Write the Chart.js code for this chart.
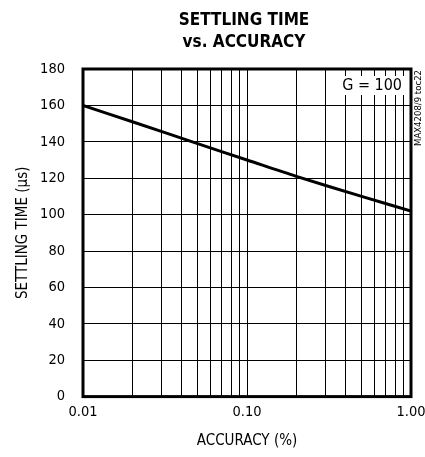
<!DOCTYPE html>
<html>
<head>
<meta charset="utf-8">
<script src="https://cdn.jsdelivr.net/npm/chart.js@4"></script>
<style>
  html, body { margin: 0; padding: 0; background: #fff; }
  #wrap { width: 425px; height: 457px; }
</style>
</head>
<body>
<div id="wrap"><canvas id="myChart"></canvas></div>
<script>
// accuracy (%) vs settling time (us), G = 100
const accuracy = [0.01, 0.02, 0.05, 0.1, 0.2, 0.5, 1.0];
const settlingTime = [160, 151, 139, 130, 121, 110, 102];
const xTickValues = [0.01, 0.02, 0.03, 0.04, 0.05, 0.06, 0.07, 0.08, 0.09,
  0.1, 0.2, 0.3, 0.4, 0.5, 0.6, 0.7, 0.8, 0.9, 1.0];
const xTickLabels = { 0.01: '0.01', 0.1: '0.10', 1: '1.00' };

const FONT = '"DejaVu Sans Condensed", "Liberation Sans", Arial, sans-serif';

// title over the plot, thick frame, G = 100 box, side note
const decorations = {
  id: 'decorations',
  afterDraw(chart) {
    const { ctx, chartArea: a } = chart;
    const cx = (a.left + a.right) / 2 - 3;
    ctx.save();
    ctx.fillStyle = '#000';
    ctx.textAlign = 'center';
    ctx.textBaseline = 'middle';
    ctx.font = 'bold 17px ' + FONT;
    ctx.fillText('SETTLING TIME', cx, 21);
    ctx.fillText('vs. ACCURACY', cx, 43);
    // label box
    ctx.font = '16px ' + FONT;
    const txt = 'G = 100';
    const w = ctx.measureText(txt).width + 6;
    const bx = a.right - w - 6, by = a.top + 7;
    ctx.fillStyle = '#fff';
    ctx.fillRect(bx, by, w, 19);
    ctx.fillStyle = '#000';
    ctx.textAlign = 'left';
    ctx.fillText(txt, bx + 3, by + 10);
    // frame
    ctx.strokeStyle = '#000';
    ctx.lineWidth = 3;
    ctx.strokeRect(a.left, a.top, a.right - a.left, a.bottom - a.top);
    // side note
    ctx.translate(a.right + 8, a.top + 1);
    ctx.rotate(-Math.PI / 2);
    ctx.font = '9.5px ' + FONT;
    ctx.textAlign = 'right';
    ctx.fillText('MAX4208/9 toc22', 0, 0);
    ctx.restore();
  }
};

new Chart(document.getElementById('myChart'), {
  type: 'line',
  data: {
    datasets: [{
      data: accuracy.map((x, i) => ({ x: x, y: settlingTime[i] })),
      borderColor: '#000',
      borderWidth: 3,
      pointRadius: 0,
      fill: false,
      tension: 0.3
    }]
  },
  options: {
    responsive: true,
    maintainAspectRatio: false,
    animation: false,
    layout: { padding: { left: 0, right: 0, top: 69, bottom: 3 } },
    plugins: {
      legend: { display: false },
      tooltip: { enabled: false },
      title: { display: false }
    },
    scales: {
      x: {
        type: 'logarithmic',
        min: 0.01,
        max: 1,
        afterBuildTicks(scale) {
          scale.ticks = xTickValues.map(v => ({ value: v }));
        },
        afterFit(scale) {
          scale.paddingRight = 14;
        },
        ticks: {
          autoSkip: false,
          maxRotation: 0,
          color: '#000',
          font: { family: FONT, size: 14.5 },
          padding: 7,
          callback: v => xTickLabels[Math.round(v * 100) / 100] || ''
        },
        grid: { color: '#000', lineWidth: 1, drawTicks: false },
        border: { display: false },
        title: {
          display: true,
          text: 'ACCURACY (%)',
          color: '#000',
          font: { family: FONT, size: 15 },
          padding: { top: 4 }
        }
      },
      y: {
        min: 0,
        max: 180,
        afterFit(scale) {
          scale.width = 83;
        },
        ticks: {
          stepSize: 20,
          color: '#000',
          font: { family: FONT, size: 14.5 },
          padding: 18
        },
        grid: { color: '#000', lineWidth: 1, drawTicks: false },
        border: { display: false },
        title: {
          display: true,
          text: 'SETTLING TIME (µs)',
          color: '#000',
          font: { family: FONT, size: 15 },
          padding: { top: 14, bottom: 4 }
        }
      }
    }
  },
  plugins: [decorations]
});
</script>
</body>
</html>
